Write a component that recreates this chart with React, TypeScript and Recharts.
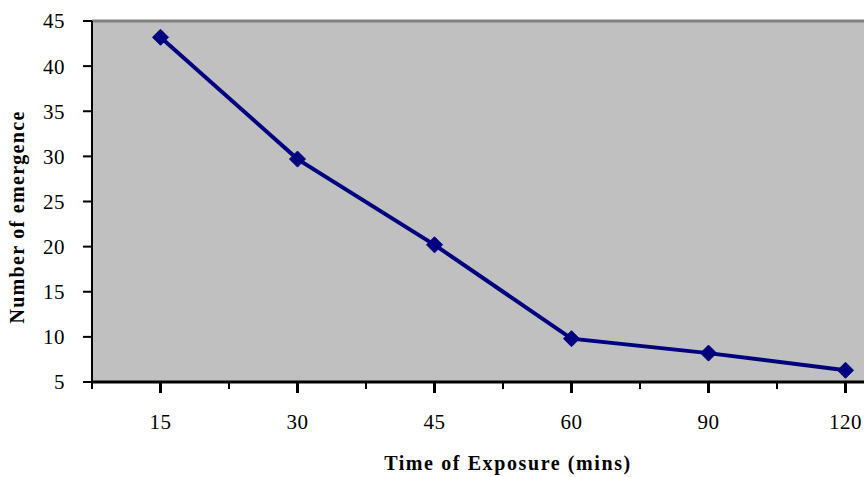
import { CartesianGrid, Label, Line, LineChart, ReferenceLine, XAxis, YAxis } from "recharts";

const exposureTimes = ["15", "30", "45", "60", "90", "120"];
const emergence = [43.2, 29.7, 20.2, 9.8, 8.2, 6.3];
const yTicks = [5, 10, 15, 20, 25, 30, 35, 40, 45];

const data = exposureTimes.map((time, idx) => ({ idx, time, emergence: emergence[idx] }));
// tall ticks under each category, short ones at the boundaries
const xTicks = Array.from({ length: exposureTimes.length * 2 + 1 }, (_, i) => i / 2 - 0.5);

const serif = "'Liberation Serif', 'Times New Roman', serif";

function XTick(props: any) {
  const { x, y, payload } = props;
  const v = payload.value as number;
  const isCenter = Number.isInteger(v);
  return (
    <g>
      <line x1={x} x2={x} y1={y} y2={y + (isCenter ? 11 : 7)} stroke="#000" strokeWidth={isCenter ? 3 : 2} />
      {isCenter && (
        <text x={x} y={y + 47} textAnchor="middle" fontFamily={serif} fontSize={21} letterSpacing={0.5} fill="#000">
          {exposureTimes[v]}
        </text>
      )}
    </g>
  );
}

function Diamond(props: any) {
  const { cx, cy } = props;
  if (cx == null || cy == null) return null;
  const r = 8;
  return (
    <polygon
      points={`${cx},${cy - r} ${cx + r},${cy} ${cx},${cy + r} ${cx - r},${cy}`}
      fill="#000080"
      stroke="#000080"
    />
  );
}

export default function App() {
  return (
    <div style={{ position: "absolute", left: 0, top: 0, width: 864, height: 477, overflow: "hidden", background: "#fff" }}>
      <LineChart width={940} height={477} data={data} margin={{ top: 21, right: 26, bottom: 35, left: 0 }}>
        <CartesianGrid fill="#c0c0c0" horizontal={false} vertical={false} />
        <ReferenceLine y={45} stroke="#808080" strokeWidth={3} />
        <XAxis
          dataKey="idx"
          type="number"
          domain={[-0.5, 5.5]}
          ticks={xTicks}
          interval={0}
          allowDataOverflow
          height={60}
          tickSize={0}
          tickMargin={0}
          tickLine={false}
          axisLine={{ stroke: "#000", strokeWidth: 3 }}
          tick={<XTick />}
        >
          <Label
            content={({ viewBox }: any) => (
              <text
                x={viewBox.x + viewBox.width / 2 + 5}
                y={viewBox.y + 88}
                textAnchor="middle"
                fontFamily={serif}
                fontWeight="bold"
                fontSize={20}
                letterSpacing={1.6}
                fill="#000"
              >
                Time of Exposure (mins)
              </text>
            )}
          />
        </XAxis>
        <YAxis
          domain={[5, 45]}
          ticks={yTicks}
          interval={0}
          width={92}
          tickSize={9}
          tickMargin={18}
          tickLine={{ stroke: "#000", strokeWidth: 2 }}
          axisLine={{ stroke: "#000", strokeWidth: 2 }}
          tick={{ fontFamily: serif, fontSize: 21, fill: "#000", letterSpacing: 0.5 }}
        >
          <Label
            content={() => (
              <text
                x={17}
                y={217}
                transform="rotate(-90, 17, 217)"
                textAnchor="middle"
                dominantBaseline="central"
                fontFamily={serif}
                fontWeight="bold"
                fontSize={20}
                letterSpacing={1.3}
                fill="#000"
              >
                Number of emergence
              </text>
            )}
          />
        </YAxis>
        <Line
          type="linear"
          dataKey="emergence"
          stroke="#000080"
          strokeWidth={4}
          dot={<Diamond />}
          activeDot={false}
          isAnimationActive={false}
        />
      </LineChart>
    </div>
  );
}
